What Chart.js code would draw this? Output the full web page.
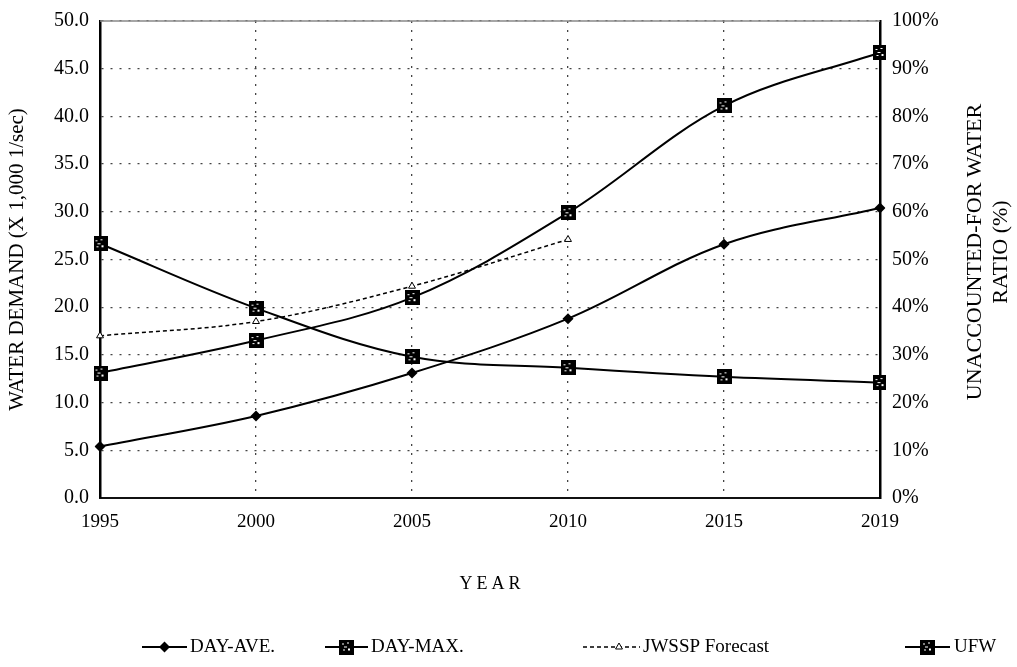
<!DOCTYPE html>
<html><head><meta charset="utf-8">
<script src="https://cdn.jsdelivr.net/npm/chart.js@4"></script>
<style>html,body{margin:0;padding:0;background:#fff}#wrap{width:1017px;height:667px;position:relative}</style>
</head><body><div id="wrap"><canvas id="c" width="1017" height="667"></canvas></div>
<script>
const years = ['1995', '2000', '2005', '2010', '2015', '2019'];
const dayAve = [5.4, 8.6, 13.1, 18.8, 26.6, 30.4];
const dayMax = [13.1, 16.5, 21.0, 29.9, 41.1, 46.7];
const jwssp = [17.0, 18.5, 22.2, 27.1, null, null];
const ufw = [53.3, 39.8, 29.6, 27.3, 25.4, 24.2];
const seriesNames = ['DAY-AVE.', 'DAY-MAX.', 'JWSSP Forecast', 'UFW'];
const leftTitle = 'WATER DEMAND (X 1,000 1/sec)';
const rightTitle = ['UNACCOUNTED-FOR WATER', 'RATIO (%)'];
const xTitle = 'YEAR';

const FONT = "'Liberation Serif', 'Times New Roman', serif";
Chart.defaults.font.family = FONT;
Chart.defaults.color = '#000';

function makeSquare(size) {
  const c = document.createElement('canvas');
  c.width = size; c.height = size;
  const g = c.getContext('2d');
  g.fillStyle = '#000'; g.fillRect(0, 0, size, size);
  g.fillStyle = '#fff';
  g.fillRect(3, 4, 2, 1); g.fillRect(8, 3, 2, 1); g.fillRect(5, 7, 3, 1);
  g.fillRect(4, 10, 2, 1); g.fillRect(9, 9, 2, 2);
  return c;
}
const sq = makeSquare(15);

const dsCommon = { tension: 0.35, fill: false, borderColor: '#000', backgroundColor: '#000' };

const data = {
  labels: years,
  datasets: [
    Object.assign({}, dsCommon, { label: seriesNames[0], data: dayAve, yAxisID: 'y', borderWidth: 2, pointStyle: 'rectRot', pointRadius: 5.5, pointBackgroundColor: '#000', pointBorderWidth: 0 }),
    Object.assign({}, dsCommon, { label: seriesNames[1], data: dayMax, yAxisID: 'y', borderWidth: 2, pointStyle: sq }),
    Object.assign({}, dsCommon, { label: seriesNames[2], data: jwssp, yAxisID: 'y', borderWidth: 1.5, borderDash: [4, 3], pointStyle: 'triangle', pointRadius: 4, pointBackgroundColor: '#fff', pointBorderColor: '#000', pointBorderWidth: 1 }),
    Object.assign({}, dsCommon, { label: seriesNames[3], data: ufw, yAxisID: 'y1', borderWidth: 2, pointStyle: sq })
  ]
};

const decor = {
  id: 'decor',
  afterDraw(chart) {
    const ctx = chart.ctx;
    const a = chart.chartArea;
    ctx.save();
    ctx.strokeStyle = '#888'; ctx.lineWidth = 1.5;
    ctx.beginPath(); ctx.moveTo(a.left, a.top); ctx.lineTo(a.right, a.top); ctx.stroke();
    ctx.fillStyle = '#000';
    ctx.font = '22px ' + FONT;
    ctx.textAlign = 'center'; ctx.textBaseline = 'middle';
    const cy = 252;
    ctx.save();
    ctx.translate(975, cy); ctx.rotate(-Math.PI / 2);
    ctx.fillText(rightTitle[0], 0, 0);
    ctx.restore();
    ctx.save();
    ctx.translate(1001, cy); ctx.rotate(-Math.PI / 2);
    ctx.fillText(rightTitle[1], 0, 0);
    ctx.restore();
    ctx.font = '18px ' + FONT;
    if ('letterSpacing' in ctx) ctx.letterSpacing = '4px';
    ctx.fillText(xTitle, 492, 584);
    if ('letterSpacing' in ctx) ctx.letterSpacing = '0px';
    const items = [
      { ds: 0, x1: 142, x2: 187, tx: 190 },
      { ds: 1, x1: 325, x2: 368, tx: 371 },
      { ds: 2, x1: 583, x2: 640, tx: 643 },
      { ds: 3, x1: 905, x2: 950, tx: 954 }
    ];
    const ly = 647;
    ctx.font = '19px ' + FONT;
    ctx.textAlign = 'left';
    items.forEach(it => {
      const ds = chart.data.datasets[it.ds];
      ctx.save();
      ctx.strokeStyle = '#000';
      ctx.lineWidth = ds.borderWidth;
      ctx.setLineDash(ds.borderDash || []);
      ctx.beginPath(); ctx.moveTo(it.x1, ly); ctx.lineTo(it.x2, ly); ctx.stroke();
      ctx.restore();
      const cx = it.ds === 2 ? it.x1 + 36 : (it.x1 + it.x2) / 2;
      ctx.save();
      ctx.fillStyle = ds.pointBackgroundColor || '#000';
      ctx.strokeStyle = ds.pointBorderColor || '#000';
      ctx.lineWidth = ds.pointBorderWidth || 0;
      Chart.helpers.drawPoint(ctx, { pointStyle: ds.pointStyle, radius: ds.pointRadius || 5, borderWidth: ds.pointBorderWidth || 0, rotation: 0 }, cx, ly);
      ctx.restore();
      ctx.fillStyle = '#000';
      ctx.fillText(ds.label, it.tx, ly);
    });
    ctx.restore();
  }
};

new Chart(document.getElementById('c'), {
  type: 'line',
  data,
  plugins: [decor],
  options: {
    responsive: false,
    animation: false,
    layout: { padding: { top: 16, left: 0, right: 0, bottom: 0 } },
    plugins: { legend: { display: false }, tooltip: { enabled: false } },
    scales: {
      x: {
        offset: false,
        grid: { color: '#444', lineWidth: 1.3, drawTicks: false },
        border: { display: true, color: '#111', width: 2, dash: [2, 7] },
        ticks: { font: { size: 19 }, color: '#000', padding: 13, maxRotation: 0 },
        afterFit(s) { s.height = 169; }
      },
      y: {
        position: 'left', min: 0, max: 50,
        grid: { color: '#444', lineWidth: 1.3, drawTicks: false },
        border: { display: true, color: '#000', width: 2.5, dash: [2, 7] },
        ticks: { stepSize: 5, font: { size: 20, lineHeight: 0.9 }, color: '#000', padding: 11, callback: v => Number(v).toFixed(1) },
        title: { display: true, text: leftTitle, font: { size: 21 }, color: '#000', padding: { top: 5, bottom: 0 } },
        afterFit(s) { s.width = 100; }
      },
      y1: {
        position: 'right', min: 0, max: 100,
        grid: { display: false, drawTicks: false },
        border: { display: true, color: '#000', width: 2.5 },
        ticks: { stepSize: 10, font: { size: 20, lineHeight: 0.9 }, color: '#000', padding: 12, callback: v => v + '%' },
        afterFit(s) { s.width = 137; }
      }
    }
  }
});
</script>
</body></html>
